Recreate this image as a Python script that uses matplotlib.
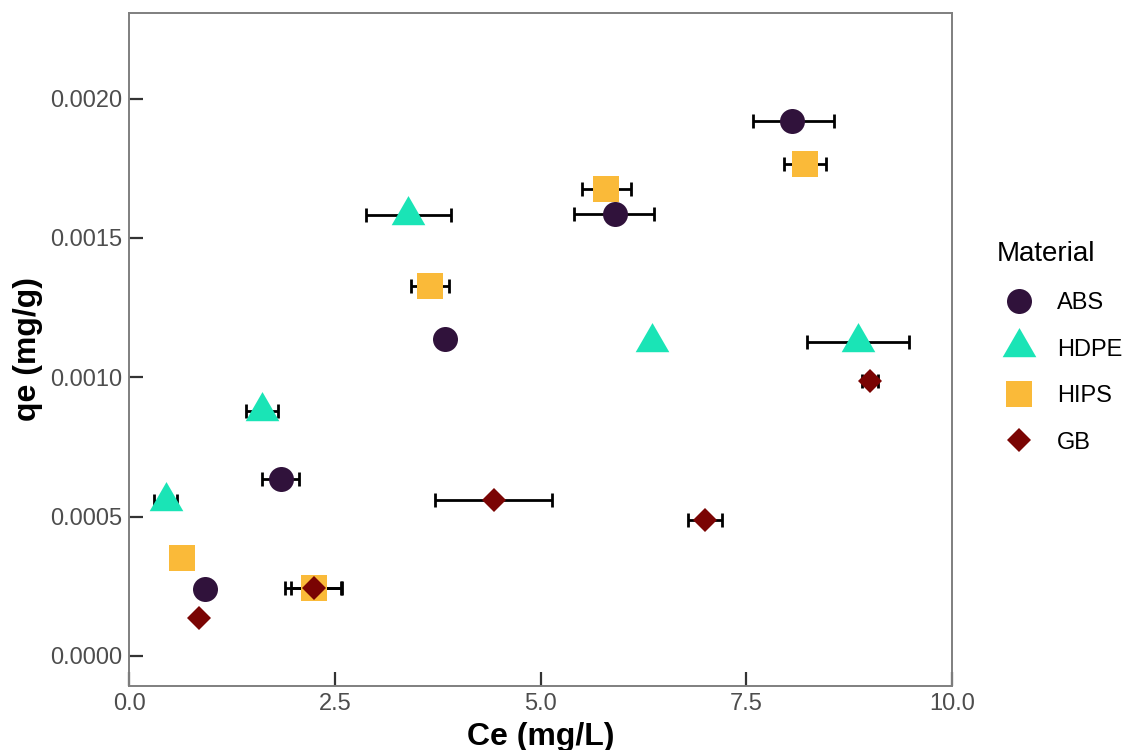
#!/usr/bin/env python3

# adsorption isotherm scatter: qe vs Ce per material, horizontal error bars
import matplotlib
matplotlib.use('Agg')
import matplotlib.pyplot as plt
from matplotlib.lines import Line2D
from matplotlib.ticker import FormatStrFormatter
import numpy as np

plt.rcParams['font.family'] = ['Liberation Sans', 'DejaVu Sans']

materials = ['ABS', 'HDPE', 'HIPS', 'GB']
colors = ['#30123B', '#1AE4B6', '#FABA39', '#7A0403']

# Ce (mg/L), with lower / upper end of the error bar
ce_abs = [0.92, 1.85, 3.84, 5.90, 8.06]
ce_lo_abs = [0.92, 1.62, 3.84, 5.41, 7.58]
ce_hi_abs = [0.92, 2.07, 3.84, 6.38, 8.56]
qe_abs = [0.000240, 0.000635, 0.001137, 0.001586, 0.001920]

ce_hdpe = [0.45, 1.61, 3.39, 6.36, 8.86]
ce_lo_hdpe = [0.30, 1.42, 2.88, 6.36, 8.24]
ce_hi_hdpe = [0.58, 1.81, 3.91, 6.36, 9.48]
qe_hdpe = [0.000556, 0.000880, 0.001582, 0.001127, 0.001127]

ce_hips = [0.64, 2.25, 3.66, 5.80, 8.21]
ce_lo_hips = [0.64, 1.90, 3.43, 5.50, 7.96]
ce_hi_hips = [0.64, 2.59, 3.89, 6.10, 8.47]
qe_hips = [0.000351, 0.000242, 0.001328, 0.001676, 0.001765]

ce_gb = [0.85, 2.25, 4.43, 7.00, 9.00]
ce_lo_gb = [0.85, 1.97, 3.72, 6.79, 8.91]
ce_hi_gb = [0.85, 2.58, 5.14, 7.21, 9.10]
qe_gb = [0.000136, 0.000242, 0.000559, 0.000488, 0.000988]

x_ticks = [0.0, 2.5, 5.0, 7.5, 10.0]
y_ticks = [0.0, 0.0005, 0.0010, 0.0015, 0.0020]

# equilateral triangle centred on its centroid (like ggplot shape 17)
tri = [(-1, -0.577), (1, -0.577), (0, 1.155), (-1, -0.577)]
markers = ['o', tri, 's', 'D']
sizes = [18, 28, 18.4, 12.4]

series = [
    (ce_abs, ce_lo_abs, ce_hi_abs, qe_abs),
    (ce_hdpe, ce_lo_hdpe, ce_hi_hdpe, qe_hdpe),
    (ce_hips, ce_lo_hips, ce_hi_hips, qe_hips),
    (ce_gb, ce_lo_gb, ce_hi_gb, qe_gb),
]


def main():
    fig = plt.figure(figsize=(11.22, 7.5), dpi=100)
    ax = fig.add_axes([0.1150, 0.0853, 0.7335, 0.8977])

    # error bars first, underneath all the points
    for ce, lo, hi, qe in series:
        ce = np.array(ce)
        xerr = [ce - np.array(lo), np.array(hi) - ce]
        ax.errorbar(ce, qe, xerr=xerr, fmt='none', ecolor='black',
                    elinewidth=2.0, capsize=5, capthick=2.0, zorder=2)

    handles = []
    for (ce, lo, hi, qe), name, col, mk, ms in zip(series, materials, colors, markers, sizes):
        ax.plot(ce, qe, linestyle='none', marker=mk, markersize=ms,
                color=col, markeredgewidth=0, zorder=3)
        handles.append(Line2D([], [], linestyle='none', marker=mk, markersize=ms,
                              color=col, markeredgewidth=0, label=name))

    ax.set_xlim(0, 10)
    ax.set_ylim(-0.000108, 0.002308)
    ax.set_xticks(x_ticks)
    ax.set_yticks(y_ticks)
    ax.xaxis.set_major_formatter(FormatStrFormatter('%.1f'))
    ax.yaxis.set_major_formatter(FormatStrFormatter('%.4f'))

    for sp in ax.spines.values():
        sp.set_color('#7f7f7f')
        sp.set_linewidth(1.4)
    ax.tick_params(direction='in', length=10, width=1.6, color='#333333',
                   labelsize=17, labelcolor='#4d4d4d', pad=5)

    ax.set_xlabel('Ce (mg/L)', fontsize=23, fontweight='bold', labelpad=5)
    ax.set_ylabel('qe (mg/g)', fontsize=23, fontweight='bold', labelpad=5)

    ax.legend(handles=handles, title='Material', loc='upper left',
              bbox_to_anchor=(0.8886, 0.678), bbox_transform=fig.transFigure,
              frameon=False, fontsize=17, title_fontsize=20, alignment='left',
              borderpad=0, borderaxespad=0, labelspacing=1.04,
              handlelength=1.86, handletextpad=0.68)

    fig.savefig('out.png', dpi=100)


if __name__ == '__main__':
    main()
